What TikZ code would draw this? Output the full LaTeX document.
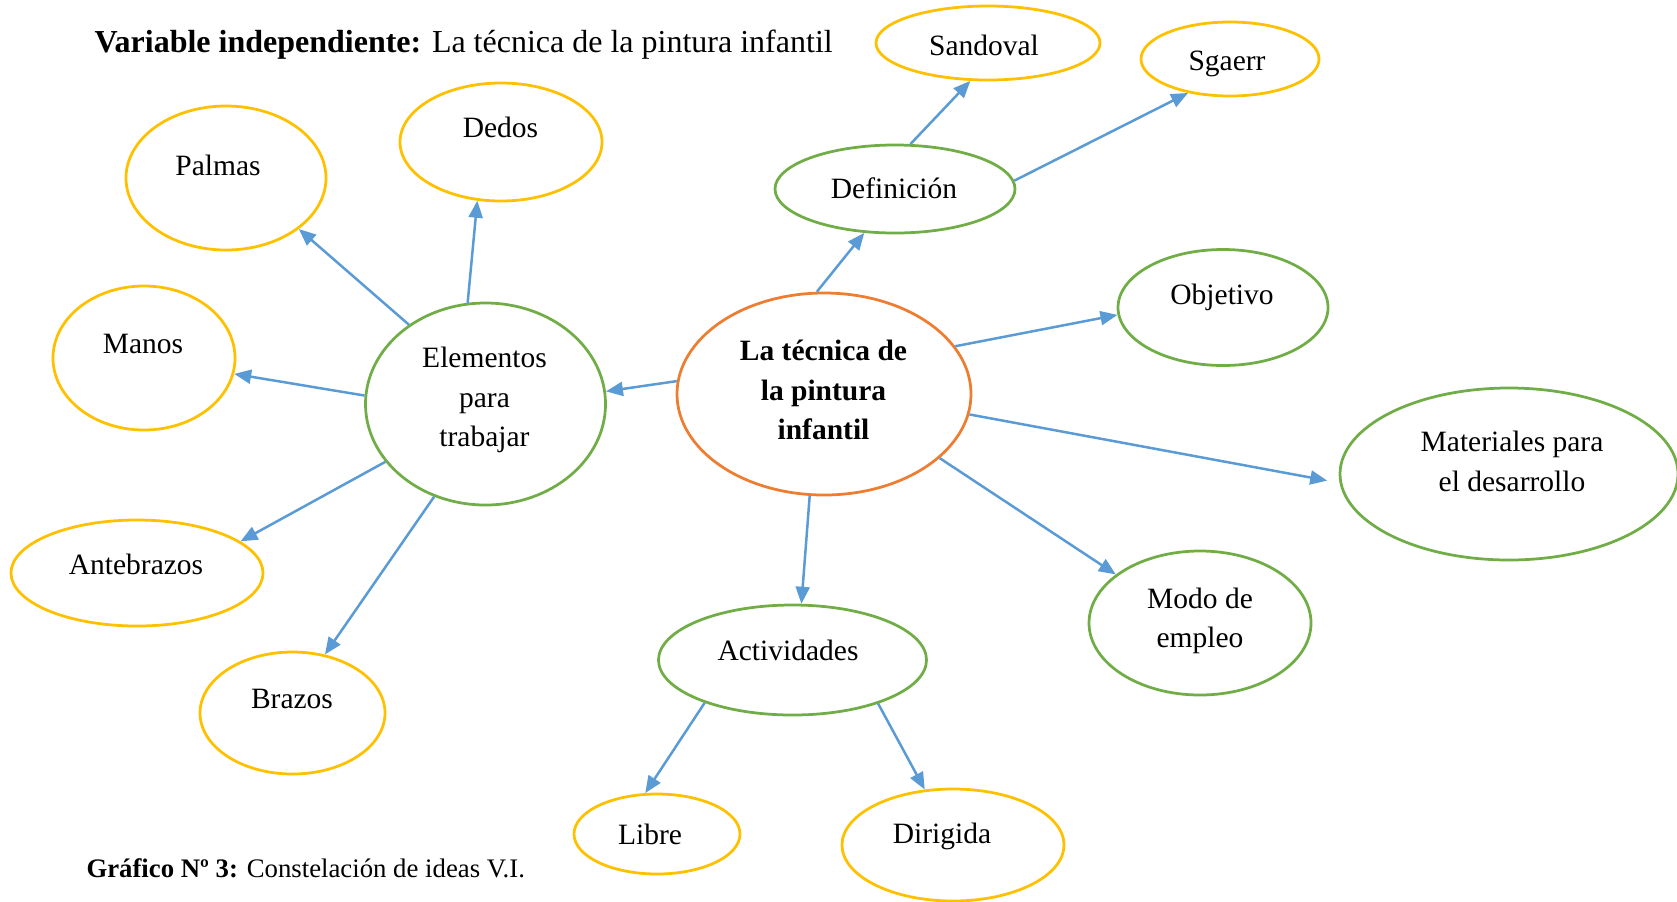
\documentclass[tikz,border=0pt]{standalone}
\usepackage{fontspec}
\setmainfont{Liberation Serif}
\usepackage{tikz}
\usetikzlibrary{arrows.meta,shapes.geometric}
\definecolor{naranja}{HTML}{ED7D31}
\definecolor{verde}{HTML}{70AD47}
\definecolor{amarillo}{HTML}{FFC000}
\definecolor{azul}{HTML}{5B9BD5}
\tikzset{
	elip/.style = {ellipse, inner sep=0pt, line width=1.1pt},
	elip_main/.style = {elip, draw=naranja},
	elip_lev1/.style = {elip, draw=verde},
	elip_lev2/.style = {elip, draw=amarillo},
	txt/.style = {align=center, inner sep=0pt, font=\fontsize{11.8}{15.8}\selectfont},
	flecha/.style = {-{Triangle[length=6.8pt,width=5.6pt]}, draw=azul, line width=1pt}
}
\begin{document}
\begin{tikzpicture}[x=0.4pt, y=-0.4pt]
	\useasboundingbox (0,0) rectangle (1677,901);
	% ellipses
	\node[elip_main, minimum width=117.6pt, minimum height=80.8pt] (central) at (824,394) {};
	\node[elip_lev1, minimum width=96pt, minimum height=80.8pt] (elementos) at (485.5,404) {};
	\node[elip_lev2, minimum width=80pt, minimum height=57.6pt] (palmas) at (226,178) {};
	\node[elip_lev2, minimum width=80.8pt, minimum height=47.2pt] (dedos) at (501,142) {};
	\node[elip_lev2, minimum width=72.8pt, minimum height=57.6pt] (manos) at (144,358) {};
	\node[elip_lev2, minimum width=100.8pt, minimum height=42.4pt] (antebrazos) at (137,573) {};
	\node[elip_lev2, minimum width=74pt, minimum height=48.8pt] (brazos) at (292.5,713) {};
	\node[elip_lev1, minimum width=96pt, minimum height=35.2pt] (definicion) at (895,189) {};
	\node[elip_lev2, minimum width=89.6pt, minimum height=29.6pt] (sandoval) at (988,43) {};
	\node[elip_lev2, minimum width=71.2pt, minimum height=29.6pt] (sgaerr) at (1230,59) {};
	\node[elip_lev1, minimum width=84pt, minimum height=46.4pt] (objetivo) at (1223,307.5) {};
	\node[elip_lev1, minimum width=135.2pt, minimum height=68.8pt] (materiales) at (1509,474) {};
	\node[elip_lev1, minimum width=88.8pt, minimum height=57.6pt] (modo) at (1200,623) {};
	\node[elip_lev1, minimum width=107.2pt, minimum height=44pt] (actividades) at (792.5,660) {};
	\node[elip_lev2, minimum width=66.4pt, minimum height=32pt] (libre) at (657,834) {};
	\node[elip_lev2, minimum width=88.8pt, minimum height=44.8pt] (dirigida) at (953,845) {};
	% texts
	\node[txt, font=\fontsize{11.8}{15.8}\selectfont\bfseries] (central_t) at (823.5,390) {La técnica de\\la pintura\\infantil};
	\node[txt] (elementos_t) at (484.5,400) {Elementos\\para\\trabajar};
	\node[txt] (palmas_t) at (218,165) {Palmas};
	\node[txt] (dedos_t) at (500.5,127) {Dedos};
	\node[txt] (manos_t) at (143,344) {Manos};
	\node[txt] (antebrazos_t) at (136,564) {Antebrazos};
	\node[txt] (brazos_t) at (292,699) {Brazos};
	\node[txt] (definicion_t) at (894,188) {Definición};
	\node[txt] (sandoval_t) at (984,45) {Sandoval};
	\node[txt] (sgaerr_t) at (1227,64) {Sgaerr};
	\node[txt] (objetivo_t) at (1222,297) {Objetivo};
	\node[txt] (materiales_t) at (1512,461.5) {Materiales para\\el desarrollo};
	\node[txt] (modo_t) at (1200,621) {Modo de\\empleo};
	\node[txt] (actividades_t) at (788,650) {Actividades};
	\node[txt] (libre_t) at (650,834) {Libre};
	\node[txt] (dirigida_t) at (942,836) {Dirigida};
	\node[txt, anchor=west, font=\fontsize{12.8}{15}\selectfont] (titulo) at (94,45) {\textbf{Variable independiente:} La técnica de la pintura infantil};
	\node[txt, anchor=west, font=\fontsize{10.7}{13}\selectfont] (grafico) at (86,868) {\textbf{Gráfico Nº 3:} Constelación de ideas V.I.};
	% arrows
	\draw[flecha] (central.175) -- (elementos.6);
	\draw[flecha] (elementos.134) -- (palmas.325);
	\draw[flecha] (elementos.100) -- (dedos.248);
	\draw[flecha] (elementos.176) -- (manos.350);
	\draw[flecha] (elementos.210) -- (antebrazos.17);
	\draw[flecha] (elementos.241) -- (brazos.61);
	\draw[flecha] (central.94) -- (definicion.235);
	\draw[flecha] (definicion.71) -- (sandoval.245);
	\draw[flecha] (definicion.4) -- (sgaerr.219);
	\draw[flecha] (central.20) -- (objetivo.184);
	\draw[flecha, shorten >=5pt] (central.352) -- (materiales.183);
	\draw[flecha] (central.331) -- (modo.150);
	\draw[flecha] (central.262) -- (actividades.81);
	\draw[flecha] (actividades.206) -- (libre.106);
	\draw[flecha] (actividades.333) -- (dirigida.117);
\end{tikzpicture}
\end{document}
